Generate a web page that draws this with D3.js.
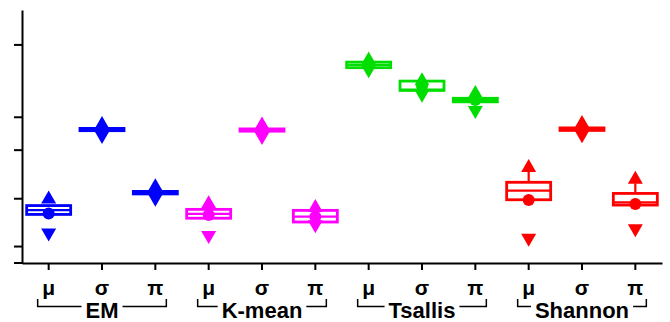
<!DOCTYPE html>
<html>
<head>
<meta charset="utf-8">
<script src="https://cdn.jsdelivr.net/npm/d3@7"></script>
<style>
  body { margin: 0; background: #fff; }
  svg { display: block; font-family: "Liberation Sans", Arial, sans-serif; }
</style>
</head>
<body>
<div id="chart"></div>
<script>
// groups and parameters
var groups = ["EM", "K-mean", "Tsallis", "Shannon"];
var params = ["\u03bc", "\u03c3", "\u03c0"];
var groupColors = ["#0000ff", "#ff00ff", "#00dd00", "#ff0000"];

// one entry per box: EM mu, sigma, pi, K-mean mu ... Shannon pi
var q1        = [19.2, 52.3, 27.3, 17.7, 52.1, 16.2, 77.2, 68.2, 63.7, 25.0, 52.4, 22.9];
var median    = [20.9, 52.8, 27.8, 19.4, 52.6, 18.3, 78.3, 68.5, 64.4, 28.6, 52.9, 24.0];
var q3        = [22.7, 53.2, 28.3, 21.2, 53.0, 20.8, 79.4, 71.9, 65.1, 31.9, 53.4, 27.5];
var mean      = [19.6, 52.8, 27.8, 19.0, 52.6, 18.3, 78.3, 70.0, 64.4, 24.9, 52.9, 23.3];
var maxV      = [26.1, 55.5, 30.9, 24.2, 55.3, 22.7, 81.0, 72.8, 67.8, 38.5, 55.9, 33.9];
var minV      = [11.1, 49.6, 24.8, 10.1, 49.2, 14.3, 75.6, 65.9, 59.5,  9.0, 49.9, 12.7];
var whiskerHi = [22.7, 53.2, 28.3, 21.2, 53.0, 20.8, 79.4, 71.9, 65.1, 36.0, 53.4, 31.5];

var yTicks = [6.7, 25.6, 44.8, 57.8, 86.4];

(function () {
    var width = 670, height = 322;
    var mLeft = 22, mRight = 662, mTop = 10, mBottom = 263;

    var cats = [];
    groups.forEach(function (g) {
        params.forEach(function (p) { cats.push(g + "|" + p); });
    });

    var x = d3.scaleBand().domain(cats).range([mLeft, mRight]).padding(0);
    var y = d3.scaleLinear().domain([0, 100]).range([mBottom, mTop]);

    var svg = d3.select("#chart").append("svg")
        .attr("width", width)
        .attr("height", height);

    // axes
    var yAxis = svg.append("g")
        .attr("transform", "translate(" + mLeft + ",0)")
        .call(d3.axisLeft(y).tickValues(yTicks).tickFormat("").tickSize(8).tickSizeOuter(0));
    var xAxis = svg.append("g")
        .attr("transform", "translate(0," + mBottom + ")")
        .call(d3.axisBottom(x).tickFormat("").tickSize(7).tickSizeOuter(0));
    [yAxis, xAxis].forEach(function (a) {
        a.selectAll("path, line").attr("stroke", "#000").attr("stroke-width", 2);
    });
    // x axis line runs a bit left of the y axis
    svg.append("line")
        .attr("x1", 14).attr("x2", mLeft + 1)
        .attr("y1", mBottom).attr("y2", mBottom)
        .attr("stroke", "#000").attr("stroke-width", 2);

    var boxW = 44;
    var cx = function (i) { return x(cats[i]) + x.bandwidth() / 2; };

    function triUp(c, v) {
        var yy = y(v);
        return "M" + (c - 7.5) + "," + (yy + 6.5) + "L" + c + "," + (yy - 6.5) + "L" + (c + 7.5) + "," + (yy + 6.5) + "Z";
    }
    function triDown(c, v) {
        var yy = y(v);
        return "M" + (c - 7.5) + "," + (yy - 6.5) + "L" + c + "," + (yy + 6.5) + "L" + (c + 7.5) + "," + (yy - 6.5) + "Z";
    }

    var boxes = svg.append("g").selectAll("g")
        .data(cats)
        .enter().append("g");

    boxes.each(function (d, i) {
        var g = d3.select(this);
        var col = groupColors[Math.floor(i / 3)];
        var c = cx(i);

        g.append("line")
            .attr("x1", c).attr("x2", c)
            .attr("y1", y(q3[i])).attr("y2", y(whiskerHi[i]))
            .attr("stroke", col).attr("stroke-width", 2.2);

        g.append("rect")
            .attr("x", c - boxW / 2)
            .attr("y", y(q3[i]))
            .attr("width", boxW)
            .attr("height", Math.max(0, y(q1[i]) - y(q3[i])))
            .attr("fill", "#fff")
            .attr("stroke", col)
            .attr("stroke-width", 2.8);

        g.append("line")
            .attr("x1", c - boxW / 2).attr("x2", c + boxW / 2)
            .attr("y1", y(median[i])).attr("y2", y(median[i]))
            .attr("stroke", col).attr("stroke-width", 2.2);

        g.append("circle")
            .attr("cx", c).attr("cy", y(mean[i]))
            .attr("r", 6)
            .attr("fill", col);

        g.append("path").attr("d", triUp(c, maxV[i])).attr("fill", col);
        g.append("path").attr("d", triDown(c, minV[i])).attr("fill", col);
    });

    // parameter labels
    svg.append("g").selectAll("text")
        .data(cats)
        .enter().append("text")
        .attr("x", function (d, i) { return cx(i); })
        .attr("y", 295)
        .attr("text-anchor", "middle")
        .attr("font-size", 21)
        .attr("font-weight", "bold")
        .text(function (d) { return d.split("|")[1]; });

    // group labels with brackets
    groups.forEach(function (g, gi) {
        var x0 = cx(gi * 3) - 11, x1 = cx(gi * 3 + 2) + 11, mid = cx(gi * 3 + 1);
        var t = svg.append("text")
            .attr("x", mid)
            .attr("y", 317.5)
            .attr("text-anchor", "middle")
            .attr("font-size", 22)
            .attr("font-weight", "bold")
            .text(g);
        var bb = t.node().getBBox();
        svg.append("path")
            .attr("fill", "none")
            .attr("stroke", "#000")
            .attr("stroke-width", 1.5)
            .attr("d", "M" + x0 + ",299V306.5H" + (bb.x - 4) +
                       "M" + (bb.x + bb.width + 4) + ",306.5H" + x1 + "V299");
    });
})();
</script>
</body>
</html>
